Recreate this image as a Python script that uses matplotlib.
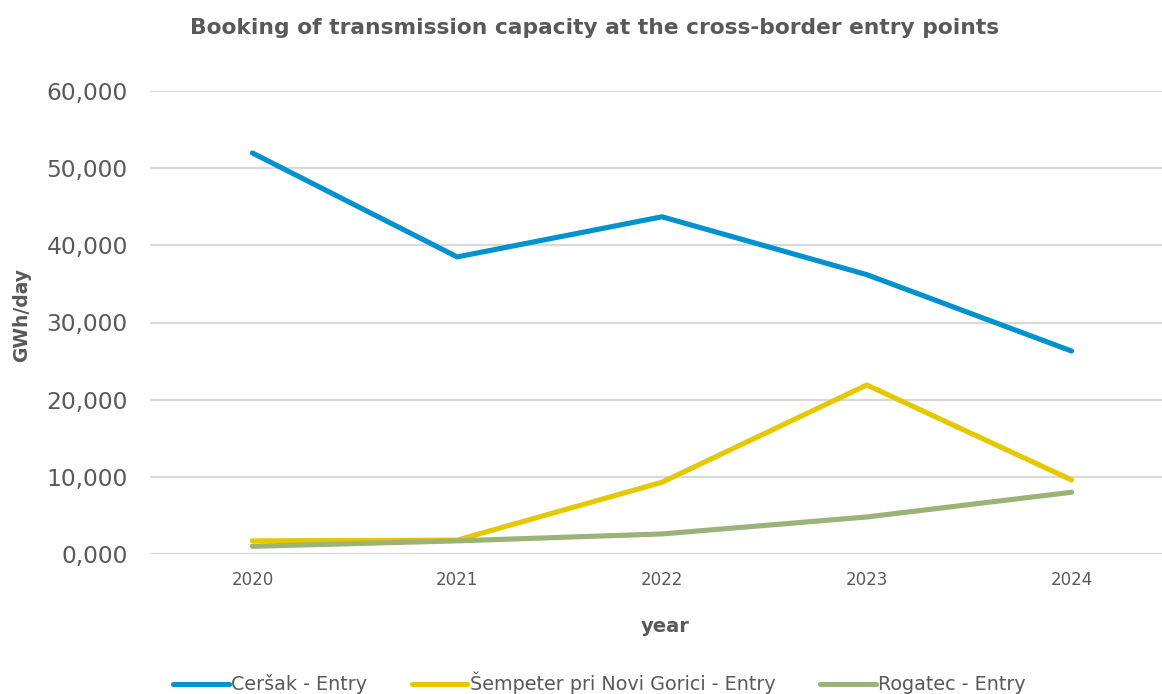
import matplotlib
matplotlib.use("Agg")
import matplotlib.pyplot as plt
from matplotlib.ticker import FuncFormatter

years = ["2020", "2021", "2022", "2023", "2024"]
cersak = [51.97, 38.5, 43.7, 36.2, 26.3]
sempeter = [1.7, 1.8, 9.3, 21.9, 9.6]
rogatec = [1.0, 1.7, 2.6, 4.8, 8.0]

series = [
    ("Ceršak - Entry", cersak, "#0091CF"),
    ("Šempeter pri Novi Gorici - Entry", sempeter, "#E6C800"),
    ("Rogatec - Entry", rogatec, "#9CB377"),
]

plt.rcParams["font.family"] = ["DejaVu Sans"]
text_color = "#595959"

fig = plt.figure(figsize=(11.62, 6.94), dpi=100)
ax = fig.add_axes([150 / 1162, 1 - 554 / 694, 1024 / 1162, 463 / 694])

x = list(range(len(years)))
for name, vals, color in series:
    ax.plot(x, vals, color=color, linewidth=3.7, label=name, solid_capstyle="round", solid_joinstyle="round", clip_on=False)

ax.set_xlim(-0.5, len(years) - 0.5)
ax.set_ylim(0, 60)
ax.set_yticks(range(0, 61, 10))
ax.yaxis.set_major_formatter(FuncFormatter(lambda v, p: f"{v:.3f}".replace(".", ",")))
ax.set_xticks(x)
ax.set_xticklabels(years)

ax.grid(axis="y", color="#D9D9D9", linewidth=1.6)
ax.set_axisbelow(True)
for s in ax.spines.values():
    s.set_visible(False)
ax.tick_params(axis="y", length=0, pad=16, labelsize=16.8, labelcolor=text_color)
ax.tick_params(axis="x", length=0, pad=12, labelsize=12, labelcolor=text_color)

fig.text(0.512, 0.96, "Booking of transmission capacity at the cross-border entry points",
         ha="center", va="center", fontsize=15.7, fontweight="bold", color=text_color)
fig.text(22 / 1162, 1 - 315 / 694, "GWh/day", rotation=90, ha="center", va="center",
         fontsize=13.5, fontweight="bold", color=text_color)
fig.text(665 / 1162, 1 - 627 / 694, "year", ha="center", va="center",
         fontsize=14, fontweight="bold", color=text_color)

leg = fig.legend(loc="center", bbox_to_anchor=(0.516, 1 - 683 / 694), ncol=3, frameon=False,
                 fontsize=13.8, handlelength=2.9, handletextpad=0.15, columnspacing=2.3)
for t in leg.get_texts():
    t.set_color(text_color)

fig.savefig("out.png", dpi=100)
